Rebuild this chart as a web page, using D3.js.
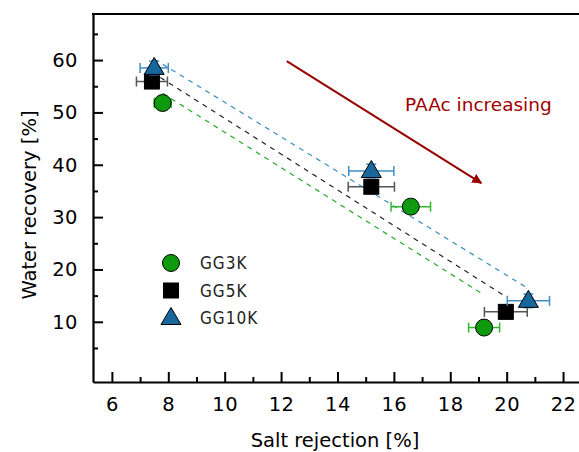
<!DOCTYPE html>
<html>
<head>
<meta charset="utf-8">
<script src="https://cdn.jsdelivr.net/npm/d3@7"></script>
<style>
  body { margin: 0; background: #fff; }
  svg { display: block; }
  text { font-family: "DejaVu Sans", sans-serif; }
</style>
</head>
<body>
<svg id="chart" width="579" height="452"></svg>
<script>
'use strict';

// salt rejection [%] (x) and water recovery [%] (y), with x / y errors
var seriesNames = ['GG3K', 'GG5K', 'GG10K'];
var gg3kX = [7.8, 16.6, 19.2];
var gg3kY = [51.8, 32.0, 8.9];
var gg3kXErr = [0.3, 0.7, 0.55];
var gg5kX = [7.42, 15.2, 19.97];
var gg5kY = [55.9, 35.8, 11.9];
var gg5kXErr = [0.55, 0.82, 0.76];
var gg10kX = [7.5, 15.2, 20.77];
var gg10kY = [58.5, 38.8, 14.0];
var gg10kXErr = [0.5, 0.8, 0.75];
var yErr = [1.3, 1.3, 1.3];

var xMajorTicks = [6, 8, 10, 12, 14, 16, 18, 20, 22];
var xMinorTicks = [7, 9, 11, 13, 15, 17, 19, 21];
var yMajorTicks = [10, 20, 30, 40, 50, 60];
var yMinorTicks = [5, 15, 25, 35, 45, 55, 65];

(function() {
  var svg = d3.select('#chart');
  var plotLeft = 93, plotTop = 14, plotBottom = 382, plotRight = 600;

  var x = d3.scaleLinear().domain([5.33, 23.31]).range([plotLeft, plotRight]);
  var y = d3.scaleLinear().domain([-1.5, 68.8]).range([plotBottom, plotTop]);

  var styles = {
    GG3K: {fill: '#0d9a0d', err: '#2fb82f', fit: '#2aa82a', shape: 'circle'},
    GG5K: {fill: '#000000', err: '#555555', fit: '#222222', shape: 'square'},
    GG10K: {fill: '#17679c', err: '#3f8fc2', fit: '#3a8cc0', shape: 'triangle'}
  };

  function zipSeries(name, xs, ys, xe) {
    return {
      name: name,
      points: xs.map(function(v, i) { return {x: v, y: ys[i], xe: xe[i], ye: yErr[i]}; })
    };
  }
  var series = [
    zipSeries('GG3K', gg3kX, gg3kY, gg3kXErr),
    zipSeries('GG5K', gg5kX, gg5kY, gg5kXErr),
    zipSeries('GG10K', gg10kX, gg10kY, gg10kXErr)
  ];

  // least squares fit for the dashed guide lines
  function fit(points) {
    var mx = d3.mean(points, function(p) { return p.x; });
    var my = d3.mean(points, function(p) { return p.y; });
    var sxy = d3.sum(points, function(p) { return (p.x - mx) * (p.y - my); });
    var sxx = d3.sum(points, function(p) { return (p.x - mx) * (p.x - mx); });
    var b = sxy / sxx;
    return function(v) { return my + b * (v - mx); };
  }

  // dashed fit lines (behind markers)
  series.forEach(function(s) {
    var f = fit(s.points);
    var x0 = s.points[0].x, x1 = s.points[s.points.length - 1].x;
    svg.append('line')
      .attr('x1', x(x0)).attr('y1', y(f(x0)))
      .attr('x2', x(x1)).attr('y2', y(f(x1)))
      .attr('stroke', styles[s.name].fit)
      .attr('stroke-width', 1.2)
      .attr('stroke-dasharray', '5,5');
  });

  // axes
  svg.append('g').attr('transform', 'translate(0,' + plotBottom + ')')
    .call(d3.axisBottom(x).tickValues(xMajorTicks).tickSizeInner(-10).tickSizeOuter(0).tickPadding(15));
  svg.append('g').attr('transform', 'translate(0,' + plotBottom + ')')
    .call(d3.axisBottom(x).tickValues(xMinorTicks).tickSizeInner(-5).tickSizeOuter(0).tickFormat(''))
    .select('.domain').remove();

  svg.append('g').attr('transform', 'translate(' + plotLeft + ',0)')
    .call(d3.axisLeft(y).tickValues(yMajorTicks).tickSizeInner(-10).tickSizeOuter(0).tickPadding(15));
  svg.append('g').attr('transform', 'translate(' + plotLeft + ',0)')
    .call(d3.axisLeft(y).tickValues(yMinorTicks).tickSizeInner(-5).tickSizeOuter(0).tickFormat(''))
    .select('.domain').remove();

  svg.selectAll('.domain').attr('stroke', '#000').attr('stroke-width', 2.2);
  svg.selectAll('.tick line').attr('stroke', '#000').attr('stroke-width', 2);
  svg.selectAll('.tick text').attr('font-size', 19.5).attr('fill', '#000')
    .style('font-family', '"DejaVu Sans", sans-serif')
    .style('letter-spacing', '0.5px');

  // top frame line
  svg.append('line')
    .attr('x1', plotLeft - 1).attr('y1', plotTop).attr('x2', plotRight).attr('y2', plotTop)
    .attr('stroke', '#000').attr('stroke-width', 2.2);

  // axis titles
  svg.append('text')
    .attr('x', 335).attr('y', 447)
    .attr('text-anchor', 'middle').attr('font-size', 19.5)
    .text('Salt rejection [%]');
  svg.append('text')
    .attr('transform', 'translate(36,205) rotate(-90)')
    .attr('text-anchor', 'middle').attr('font-size', 19.5)
    .text('Water recovery [%]');

  // markers
  function drawMarker(g, shape, fill, cx, cy) {
    if (shape === 'circle') {
      g.append('circle').attr('cx', cx).attr('cy', cy).attr('r', 8.5)
        .attr('fill', fill).attr('stroke', '#000').attr('stroke-width', 1);
    } else if (shape === 'square') {
      g.append('rect').attr('x', cx - 7.5).attr('y', cy - 7.5).attr('width', 15).attr('height', 15)
        .attr('fill', fill).attr('stroke', '#000').attr('stroke-width', 1);
    } else {
      g.append('path')
        .attr('d', 'M' + cx + ',' + (cy - 10.5) + 'L' + (cx + 10) + ',' + (cy + 6.5) + 'L' + (cx - 10) + ',' + (cy + 6.5) + 'Z')
        .attr('fill', fill).attr('stroke', '#000').attr('stroke-width', 1);
    }
  }

  series.forEach(function(s) {
    var st = styles[s.name];
    var g = svg.append('g');
    s.points.forEach(function(p) {
      var cx = x(p.x), cy = y(p.y);
      var xl = x(p.x - p.xe), xr = x(p.x + p.xe);
      var yt = y(p.y + p.ye), yb = y(p.y - p.ye);
      // error bars
      g.append('line').attr('x1', xl).attr('x2', xr).attr('y1', cy).attr('y2', cy)
        .attr('stroke', st.err).attr('stroke-width', 1.5);
      [xl, xr].forEach(function(ex) {
        g.append('line').attr('x1', ex).attr('x2', ex).attr('y1', cy - 5).attr('y2', cy + 5)
          .attr('stroke', st.err).attr('stroke-width', 1.5);
      });
      g.append('line').attr('x1', cx).attr('x2', cx).attr('y1', yt).attr('y2', yb)
        .attr('stroke', st.err).attr('stroke-width', 1.5);
      [yt, yb].forEach(function(ey) {
        g.append('line').attr('x1', cx - 5).attr('x2', cx + 5).attr('y1', ey).attr('y2', ey)
          .attr('stroke', st.err).attr('stroke-width', 1.5);
      });
      drawMarker(g, st.shape, st.fill, cx, cy);
    });
  });

  // legend
  var legend = svg.append('g');
  seriesNames.forEach(function(name, i) {
    var ly = 263 + i * 27.5;
    drawMarker(legend, styles[name].shape, styles[name].fill, 171, ly);
    legend.append('text')
      .attr('x', 200).attr('y', ly + 6)
      .attr('font-size', 17)
      .style('font-stretch', 'condensed')
      .style('letter-spacing', '1px')
      .attr('fill', '#222')
      .text(name);
  });

  // annotation arrow
  svg.append('defs').append('marker')
    .attr('id', 'arrowhead')
    .attr('viewBox', '0 0 10 10')
    .attr('refX', 9).attr('refY', 5)
    .attr('markerWidth', 5).attr('markerHeight', 5)
    .attr('orient', 'auto')
    .append('path').attr('d', 'M0,0L10,5L0,10Z').attr('fill', '#990000');

  svg.append('line')
    .attr('x1', x(12.2)).attr('y1', y(59.8))
    .attr('x2', x(19.1)).attr('y2', y(36.5))
    .attr('stroke', '#990000').attr('stroke-width', 2)
    .attr('marker-end', 'url(#arrowhead)');

  svg.append('text')
    .attr('x', 405).attr('y', 111)
    .attr('font-size', 18.5)
    .attr('fill', '#a00000')
    .text('PAAc increasing');
})();
</script>
</body>
</html>
